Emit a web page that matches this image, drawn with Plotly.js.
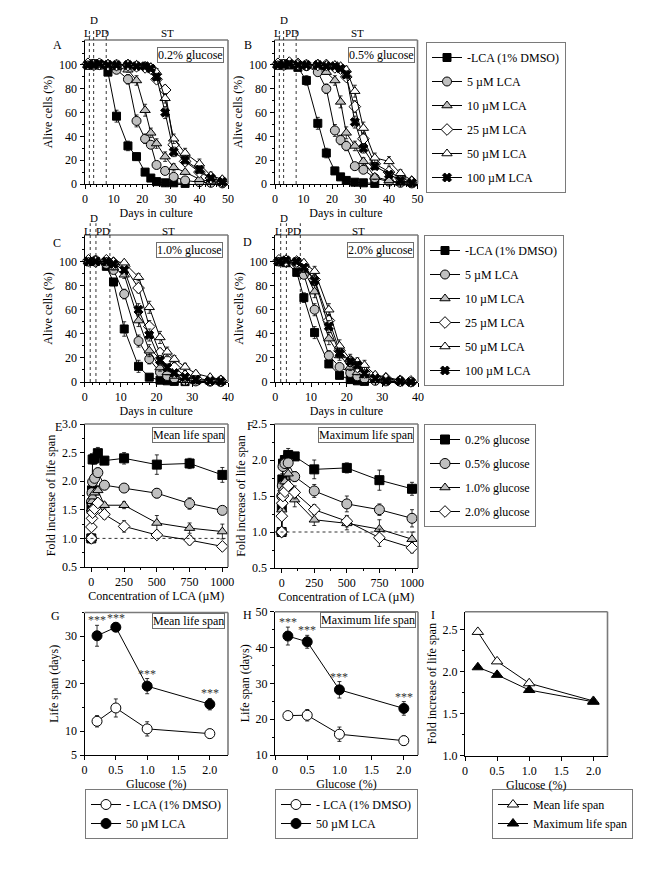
<!DOCTYPE html>
<html><head><meta charset="utf-8">
<script src="https://cdn.plot.ly/plotly-3.0.1.min.js"></script>
<style>html,body{margin:0;padding:0;background:#fff}</style>
</head><body><div id="chart" style="width:672px;height:869px"></div>
<script>
// ---------------- DATA ----------------
const daysAB = [1,3,5,8,11,15,18,21,23,25,28,31,35,40,44,48];
const daysCD = [1,3,6,8,11,15,18,21,23,25,28,31,35,38];
const seriesNames = ['-LCA (1% DMSO)','5 \u00b5M LCA','10 \u00b5M LCA','25 \u00b5M LCA','50 \u00b5M LCA','100 \u00b5M LCA'];

// Panel A: 0.2% glucose
const ctrlA   = [100,101,100,94,57,32,23,10,5,2,1,1,0.5];
const ctrlAe  = [1,1,1,2,5,4,3,2,1,1,0.5,0.5,0.3];
const lca5A   = [100,101,100,100,96,88,53,38,33,16,11,6,3,1.5,1,0.5];
const lca5Ae  = [1,1,1,1,2,4,5,4,3,3,2,2,1,1,0.5,0.5];
const lca10A  = [100,100,101,100,98,96,87,62,43,34,23,14,10,4,2,1];
const lca10Ae = [1,1,1,1,2,2,4,5,4,4,4,3,2,1,1,0.5];
const lca25A  = [101,100,101,100,100,100,99,98,97,88,79,33,19,10,5,2];
const lca25Ae = [1,1,1,1,1,1,1,2,2,3,4,4,3,2,2,1];
const lca50A  = [100,101,100,101,100,101,100,99,98,94,72,38,26,17,7,4];
const lca50Ae = [1,1,1,1,1,1,1,2,2,3,4,4,4,4,3,2];
const lca100A = [100,100,101,100,100,100,99,99,97,90,60,27,20,12,5,2];
const lca100Ae= [1,1,1,1,1,1,1,2,2,3,5,4,3,3,2,1];

// Panel B: 0.5% glucose
const ctrlB   = [100,101,100,98,87,51,26,11,6,3,1.5,1,0.5];
const ctrlBe  = [1,1,1,2,4,5,4,3,2,1,1,0.5,0.3];
const lca5B   = [100,100,101,100,99,94,80,45,37,32,15,12,5,2,1,0.5];
const lca5Be  = [1,1,1,1,1,2,4,5,4,4,3,3,2,1,1,0.5];
const lca10B  = [100,101,100,100,100,99,94,87,69,43,32,19,6,3,1,0.5];
const lca10Be = [1,1,1,1,1,1,2,4,5,5,4,3,2,1,1,0.5];
const lca25B  = [101,100,102,101,100,100,100,98,97,90,65,38,17,10,5,2];
const lca25Be = [1,1,1,1,1,1,1,2,2,3,5,5,3,2,2,1];
const lca50B  = [100,101,100,101,100,101,100,100,99,96,78,47,22,19,9,3];
const lca50Be = [1,1,1,1,1,1,1,1,2,3,5,5,4,4,3,2];
const lca100B = [100,100,101,100,100,100,99,99,97,92,52,30,15,8,3,1];
const lca100Be= [1,1,1,1,1,1,1,2,2,3,5,4,3,2,2,1];

// Panel C: 1.0% glucose
const ctrlC   = [100,100,96,83,44,13,4,1.5,1,0.5,0.3];
const ctrlCe  = [1,1,2,3,6,5,2,1,0.5,0.5,0.3];
const lca5C   = [100,101,98,93,73,34,19,8,5,3,1,0.5,0.3,0];
const lca5Ce  = [1,1,1,2,4,5,4,2,1,1,0.5,0.5,0.3,0];
const lca10C  = [100,100,99,95,89,51,26,12,8,5,1.5,0.5,0.3,0];
const lca10Ce = [1,1,1,2,3,5,5,3,2,1,1,0.5,0.3,0];
const lca25C  = [101,100,101,99,96,78,46,24,18,12,5,3,1.5,1];
const lca25Ce = [1,1,1,1,2,4,5,4,3,3,2,1,1,0.5];
const lca50C  = [100,101,100,100,99,87,62,37,25,19,12.5,7,4,2];
const lca50Ce = [1,1,1,1,1,3,5,5,4,3,3,2,1,1];
const lca100C = [100,100,100,98,93,60,39,18,12,7.5,4,2,1,0.5];
const lca100Ce= [1,1,1,1,2,5,5,4,3,2,1,1,0.5,0.5];

// Panel D: 2.0% glucose
const ctrlD   = [100,99,91,70,41,15,5.5,2,1,0.5];
const ctrlDe  = [1,1,3,4,5,3,2,1,0.5,0.3];
const lca5D   = [100,100,98,89,60,22,12.5,7.5,4.7,2.8,1,0.5,0.3,0];
const lca5De  = [1,1,1,3,5,4,3,2,1,1,0.5,0.5,0.3,0];
const lca10D  = [100,101,99,93,75,36,22,12.5,8,5.5,2,1,0.5,0.3];
const lca10De = [1,1,1,2,5,5,4,3,2,1,1,0.5,0.3,0.3];
const lca25D  = [101,100,100,96,85,51,26,17,12.5,8,4,3,1,0.5];
const lca25De = [1,1,1,2,4,5,5,4,3,2,1,1,0.5,0.3];
const lca50D  = [100,102,100,99,92,60,30,19,17,14,6,4,1.5,0.5];
const lca50De = [1,1,1,2,4,5,5,4,3,4,2,1,1,0.5];
const lca100D = [100,101,100,95,84,46,24,17,14,7,3,1,0.5,0];
const lca100De= [1,1,1,2,4,5,4,4,3,2,1,0.5,0.3,0];

// Phase boundaries (days)
const phaseAB = [1.5, 3, 7.4];
const phaseCD = [1.5, 3.1, 7];

// Panels E/F: fold increase vs LCA concentration
const concLCA = [0,1,5,10,25,50,100,250,500,750,1000];
const glucNames = ['0.2% glucose','0.5% glucose','1.0% glucose','2.0% glucose'];
const meanE02 = [1.00,1.52,1.84,2.38,2.40,2.49,2.36,2.40,2.29,2.31,2.11];
const meanE02e= [0.02,0.05,0.06,0.08,0.10,0.10,0.06,0.10,0.17,0.09,0.13];
const meanE05 = [1.00,1.64,1.80,1.99,2.05,2.15,1.93,1.88,1.79,1.61,1.49];
const meanE05e= [0.02,0.05,0.06,0.06,0.08,0.08,0.08,0.05,0.08,0.10,0.06];
const meanE10 = [1.00,1.52,1.65,1.73,1.80,1.84,1.58,1.58,1.27,1.18,1.12];
const meanE10e= [0.02,0.05,0.05,0.06,0.08,0.08,0.05,0.06,0.13,0.09,0.13];
const meanE20 = [1.00,1.20,1.35,1.45,1.52,1.62,1.42,1.21,1.06,0.97,0.86];
const meanE20e= [0.02,0.04,0.04,0.05,0.05,0.05,0.08,0.10,0.05,0.08,0.03];
const maxF02 = [1.00,1.35,1.73,1.95,2.00,2.07,2.05,1.87,1.89,1.72,1.60];
const maxF02e= [0.02,0.08,0.08,0.08,0.08,0.09,0.05,0.13,0.07,0.14,0.09];
const maxF05 = [1.00,1.50,1.64,1.91,1.95,1.96,1.77,1.57,1.39,1.31,1.19];
const maxF05e= [0.02,0.06,0.06,0.06,0.06,0.07,0.07,0.09,0.11,0.08,0.12];
const maxF10 = [1.00,1.31,1.42,1.60,1.70,1.81,1.45,1.17,1.12,1.04,0.90];
const maxF10e= [0.02,0.06,0.06,0.07,0.08,0.08,0.10,0.08,0.09,0.13,0.10];
const maxF20 = [1.00,1.22,1.40,1.50,1.56,1.64,1.55,1.31,1.15,0.92,0.78];
const maxF20e= [0.02,0.05,0.05,0.05,0.05,0.06,0.09,0.07,0.08,0.12,0.07];

// Panels G/H/I
const glucose = [0.2,0.5,1.0,2.0];
const gCtrl  = [12.1,14.9,10.5,9.5];
const gCtrlE = [1.2,1.9,1.5,0.9];
const gLca   = [30.1,31.9,19.5,15.7];
const gLcaE  = [2.2,0.9,1.6,1.2];
const hCtrl  = [21.0,21.1,15.8,14.0];
const hCtrlE = [0.5,1.6,2.0,1.3];
const hLca   = [43.2,41.6,28.2,23.0];
const hLcaE  = [2.5,1.8,2.3,1.9];
const iMean  = [2.47,2.12,1.86,1.65];
const iMax   = [2.05,1.96,1.78,1.64];
const ghNames = ['- LCA (1% DMSO)','50 \u00b5M LCA'];
const iNames  = ['Mean life span','Maximum life span'];
const starText = '***';

// ---------------- STYLE / LAYOUT ----------------
const FONT = 'Liberation Serif';
const W = 672, H = 869;
const PX = p => p / W, PY = p => 1 - p / H;
const GRAY = '#c0c0c0';
const styles = [
  {symbol:'square', size:8, color:'#000'},
  {symbol:'circle', size:9, color:GRAY},
  {symbol:'triangle-up', size:9, color:GRAY},
  {symbol:'diamond', size:9, color:'#fff'},
  {symbol:'triangle-up', size:9, color:'#fff'},
  {symbol:'x', size:8, color:'#000'}
];
const sfx = n => n === 1 ? '' : String(n);

function trace(x, y, err, st, name, n, legend, show, group) {
  const t = {
    type:'scatter', mode:'lines+markers', x:x.slice(0, y.length), y:y, name:name,
    xaxis:'x'+sfx(n), yaxis:'y'+sfx(n),
    line:{color:'#000', width:1},
    marker:{symbol:st.symbol, size:st.size, color:st.color, line:{color:'#000', width:1}},
    cliponaxis:false, showlegend:show, legendgroup:group
  };
  if (legend) t.legend = legend;
  if (err) t.error_y = {type:'data', array:err, visible:true, color:'#000', thickness:0.8, width:2};
  return t;
}

const data = [];
const survPanels = [
  {n:1, x:daysAB, ys:[ctrlA,lca5A,lca10A,lca25A,lca50A,lca100A], es:[ctrlAe,lca5Ae,lca10Ae,lca25Ae,lca50Ae,lca100Ae], leg:null},
  {n:2, x:daysAB, ys:[ctrlB,lca5B,lca10B,lca25B,lca50B,lca100B], es:[ctrlBe,lca5Be,lca10Be,lca25Be,lca50Be,lca100Be], leg:'legend'},
  {n:3, x:daysCD, ys:[ctrlC,lca5C,lca10C,lca25C,lca50C,lca100C], es:[ctrlCe,lca5Ce,lca10Ce,lca25Ce,lca50Ce,lca100Ce], leg:null},
  {n:4, x:daysCD, ys:[ctrlD,lca5D,lca10D,lca25D,lca50D,lca100D], es:[ctrlDe,lca5De,lca10De,lca25De,lca50De,lca100De], leg:'legend2'}
];
survPanels.forEach(p => {
  p.ys.forEach((y, i) => {
    data.push(trace(p.x, y, p.es[i], styles[i], seriesNames[i], p.n, p.leg, !!p.leg, 'p'+p.n+'s'+i));
  });
});
const eSeries = [[meanE02,meanE02e],[meanE05,meanE05e],[meanE10,meanE10e],[meanE20,meanE20e]];
const fSeries = [[maxF02,maxF02e],[maxF05,maxF05e],[maxF10,maxF10e],[maxF20,maxF20e]];
const efStyles = [
  {symbol:'square', size:9, color:'#000'},
  {symbol:'circle', size:10, color:GRAY},
  {symbol:'triangle-up', size:9, color:GRAY},
  {symbol:'diamond', size:9, color:'#fff'}
];
eSeries.forEach((s, i) => data.push(trace(concLCA, s[0], s[1], efStyles[i], glucNames[i], 5, null, false, 'e'+i)));
fSeries.forEach((s, i) => data.push(trace(concLCA, s[0], s[1], efStyles[i], glucNames[i], 6, 'legend3', true, 'f'+i)));

const openC = {symbol:'circle', size:10, color:'#fff'};
const fillC = {symbol:'circle', size:10, color:'#000'};
data.push(trace(glucose, gCtrl, gCtrlE, openC, ghNames[0], 7, 'legend4', true, 'g0'));
data.push(trace(glucose, gLca, gLcaE, fillC, ghNames[1], 7, 'legend4', true, 'g1'));
data.push(trace(glucose, hCtrl, hCtrlE, openC, ghNames[0], 8, 'legend5', true, 'h0'));
data.push(trace(glucose, hLca, hLcaE, fillC, ghNames[1], 8, 'legend5', true, 'h1'));
data.push(trace(glucose, iMean, null, {symbol:'triangle-up', size:10, color:'#fff'}, iNames[0], 9, 'legend6', true, 'i0'));
data.push(trace(glucose, iMax, null, {symbol:'triangle-up', size:10, color:'#000'}, iNames[1], 9, 'legend6', true, 'i1'));

// panel boxes in pixels
const boxes = {
  1:{l:84.5, r:228, t:40, b:184},
  2:{l:274.5, r:417.5, t:40, b:184},
  3:{l:84.5, r:228, t:235, b:382},
  4:{l:275, r:418, t:235, b:382},
  5:{l:84.5, r:228, t:424, b:567},
  6:{l:274.5, r:418, t:424, b:568},
  7:{l:84.5, r:228, t:612.5, b:755},
  8:{l:275, r:418, t:611.7, b:755},
  9:{l:465, r:607.5, t:611.7, b:755.7}
};
const tickFont = {family:FONT, size:12, color:'#000'};
const titleFont = {family:FONT, size:12, color:'#000'};
function baseAxis() {
  return {showline:true, linecolor:'#000', linewidth:1, ticks:'outside', ticklen:4, tickwidth:1,
    tickcolor:'#000', showgrid:false, zeroline:false, tickfont:tickFont, fixedrange:true};
}
const gx = {tickvals:[0,0.5,1,1.5,2], ticktext:['0','0.5','1.0','1.5','2.0']};
const axisSpec = {
  1:{x:{range:[-0.2,50], dtick:10, tick0:0, minor:{dtick:2, ticks:'outside', ticklen:2}, title:'Days in culture'},
     y:{range:[0,121], tickvals:[0,20,40,60,80,100], minor:{dtick:10, ticks:'outside', ticklen:2}, title:'Alive cells (%)'}},
  2:{x:{range:[-0.2,50], dtick:10, tick0:0, minor:{dtick:2, ticks:'outside', ticklen:2}, title:'Days in culture'},
     y:{range:[0,121], tickvals:[0,20,40,60,80,100], minor:{dtick:10, ticks:'outside', ticklen:2}, title:'Alive cells (%)'}},
  3:{x:{range:[-0.1,40], dtick:10, tick0:0, minor:{dtick:2, ticks:'outside', ticklen:2}, title:'Days in culture'},
     y:{range:[0,122], tickvals:[0,20,40,60,80,100], minor:{dtick:10, ticks:'outside', ticklen:2}, title:'Alive cells (%)'}},
  4:{x:{range:[-0.1,40], dtick:10, tick0:0, minor:{dtick:2, ticks:'outside', ticklen:2}, title:'Days in culture'},
     y:{range:[0,122], tickvals:[0,20,40,60,80,100], minor:{dtick:10, ticks:'outside', ticklen:2}, title:'Alive cells (%)'}},
  5:{x:{range:[-52,1043], tickvals:[0,250,500,750,1000], minor:{dtick:125, ticks:'outside', ticklen:2}, title:'Concentration of LCA (\u00b5M)'},
     y:{range:[0.5,3.0], dtick:0.5, tick0:0.5, tickformat:'.1f', minor:{dtick:0.25, ticks:'outside', ticklen:2}, title:'Fold increase of life span'}},
  6:{x:{range:[-55,1046], tickvals:[0,250,500,750,1000], minor:{dtick:125, ticks:'outside', ticklen:2}, title:'Concentration of LCA (\u00b5M)'},
     y:{range:[0.5,2.5], dtick:0.5, tick0:0.5, tickformat:'.1f', minor:{dtick:0.25, ticks:'outside', ticklen:2}, title:'Fold increase of life span'}},
  7:{x:Object.assign({range:[0,2.29], title:'Glucose (%)'}, gx),
     y:{range:[5,35], tickvals:[5,10,20,30], minor:{dtick:5, ticks:'outside', ticklen:2}, title:'Life span (days)'}},
  8:{x:Object.assign({range:[0,2.22], title:'Glucose (%)'}, gx),
     y:{range:[10,50], dtick:10, tick0:10, minor:{dtick:5, ticks:'outside', ticklen:2}, title:'Life span (days)'}},
  9:{x:Object.assign({range:[0,2.22], title:'Glucose (%)'}, gx),
     y:{range:[1.0,2.71], tickvals:[1,1.5,2,2.5], tickformat:'.1f', minor:{dtick:0.25, tick0:1, ticks:'outside', ticklen:2}, title:'Fold increase of life span'}}
};

const layout = {
  width:W, height:H, margin:{l:0,r:0,t:0,b:0}, paper_bgcolor:'#fff', plot_bgcolor:'rgba(0,0,0,0)',
  font:{family:FONT, size:12, color:'#000'}, showlegend:true, shapes:[], annotations:[]
};
for (let n = 1; n <= 9; n++) {
  const b = boxes[n], s = axisSpec[n];
  const xa = Object.assign(baseAxis(), s.x, {domain:[PX(b.l), PX(b.r)], anchor:'y'+sfx(n),
    title:{text:s.x.title, font:titleFont, standoff:3}});
  const ya = Object.assign(baseAxis(), s.y, {domain:[PY(b.b), PY(b.t)], anchor:'x'+sfx(n),
    title:{text:s.y.title, font:titleFont, standoff:3}});
  layout['xaxis'+sfx(n)] = xa;
  layout['yaxis'+sfx(n)] = ya;
  const xd = 'x'+sfx(n)+' domain', yd = 'y'+sfx(n)+' domain';
  layout.shapes.push({type:'line', xref:xd, yref:yd, x0:0, x1:1, y0:1, y1:1, line:{color:'#7a7a7a', width:1.6}});
  layout.shapes.push({type:'line', xref:xd, yref:yd, x0:1, x1:1, y0:0, y1:1, line:{color:'#7a7a7a', width:1.6}});
}
[[1,phaseAB],[2,phaseAB],[3,phaseCD],[4,phaseCD]].forEach(([n, ph]) => {
  ph.forEach(v => layout.shapes.push({type:'line', xref:'x'+sfx(n), yref:'y'+sfx(n)+' domain',
    x0:v, x1:v, y0:0, y1:1.08, line:{color:'#000', width:0.8, dash:'dot'}}));
});
[5,6].forEach(n => layout.shapes.push({type:'line', xref:'x'+sfx(n)+' domain', yref:'y'+sfx(n),
  x0:0, x1:1, y0:1, y1:1, line:{color:'#000', width:0.8, dash:'dot'}}));

function txt(px, py, text, opts) {
  return Object.assign({xref:'paper', yref:'paper', x:PX(px), y:PY(py), text:text, showarrow:false,
    font:{family:FONT, size:12, color:'#000'}, xanchor:'center', yanchor:'middle'}, opts || {});
}
[['A',57,45],['B',248,45],['C',57,243],['D',247,242],['E',59,427],['F',250,426],['G',55,616],['H',247,615],['I',433,615]]
  .forEach(([t,x,y]) => layout.annotations.push(txt(x, y, t)));
const small = {font:{family:FONT, size:11, color:'#000'}};
[0, 190.5].forEach(dx => {
  layout.annotations.push(txt(87+dx, 33, 'L', small));
  layout.annotations.push(txt(93.5+dx, 19.5, 'D', small));
  layout.annotations.push(txt(101.5+dx, 33, 'PD', small));
  layout.annotations.push(txt(167+dx, 33, 'ST', small));
  layout.annotations.push(txt(87.5+dx, 231, 'L', small));
  layout.annotations.push(txt(93.5+dx, 217.5, 'D', small));
  layout.annotations.push(txt(103+dx, 231, 'PD', small));
  layout.annotations.push(txt(168+dx, 231, 'ST', small));
});
const boxOpt = {xanchor:'right', yanchor:'top', bordercolor:'#6e6e6e', borderwidth:1, borderpad:0, bgcolor:'#fff'};
[['0.2% glucose',224,46.5],['0.5% glucose',415,46.5],['1.0% glucose',223,241.5],['2.0% glucose',413.5,241.5],
 ['Mean life span',225,426.5],['Maximum life span',414,426.5],['Mean life span',225,612.5],['Maximum life span',416,611.5]]
  .forEach(([t,x,y]) => layout.annotations.push(txt(x, y, t, boxOpt)));
glucose.forEach((g, i) => {
  layout.annotations.push({xref:'x7', yref:'y7', x:g, y:gLca[i] + gLcaE[i], text:starText, showarrow:false,
    yanchor:'bottom', yshift:-4, opacity:0.99, font:{family:FONT, size:12, color:'#333'}});
  layout.annotations.push({xref:'x8', yref:'y8', x:g, y:hLca[i] + hLcaE[i], text:starText, showarrow:false,
    yanchor:'bottom', yshift:-4, opacity:0.99, font:{family:FONT, size:12, color:'#333'}});
});
function leg(px, py, gap) {
  return {x:PX(px), y:PY(py), xanchor:'left', yanchor:'top', bordercolor:'#7a7a7a', borderwidth:1,
    bgcolor:'#fff', font:{family:FONT, size:12, color:'#000'}, tracegroupgap:gap, itemwidth:30};
}
layout.legend  = leg(426, 42, 5);
layout.legend2 = leg(424, 235, 5);
layout.legend3 = leg(424, 424, 5);
layout.legend4 = leg(85, 789, 0);
layout.legend5 = leg(275, 789, 0);
layout.legend6 = leg(492, 789, 0);

Plotly.newPlot('chart', data, layout, {staticPlot:true, displayModeBar:false});
</script></body></html>
